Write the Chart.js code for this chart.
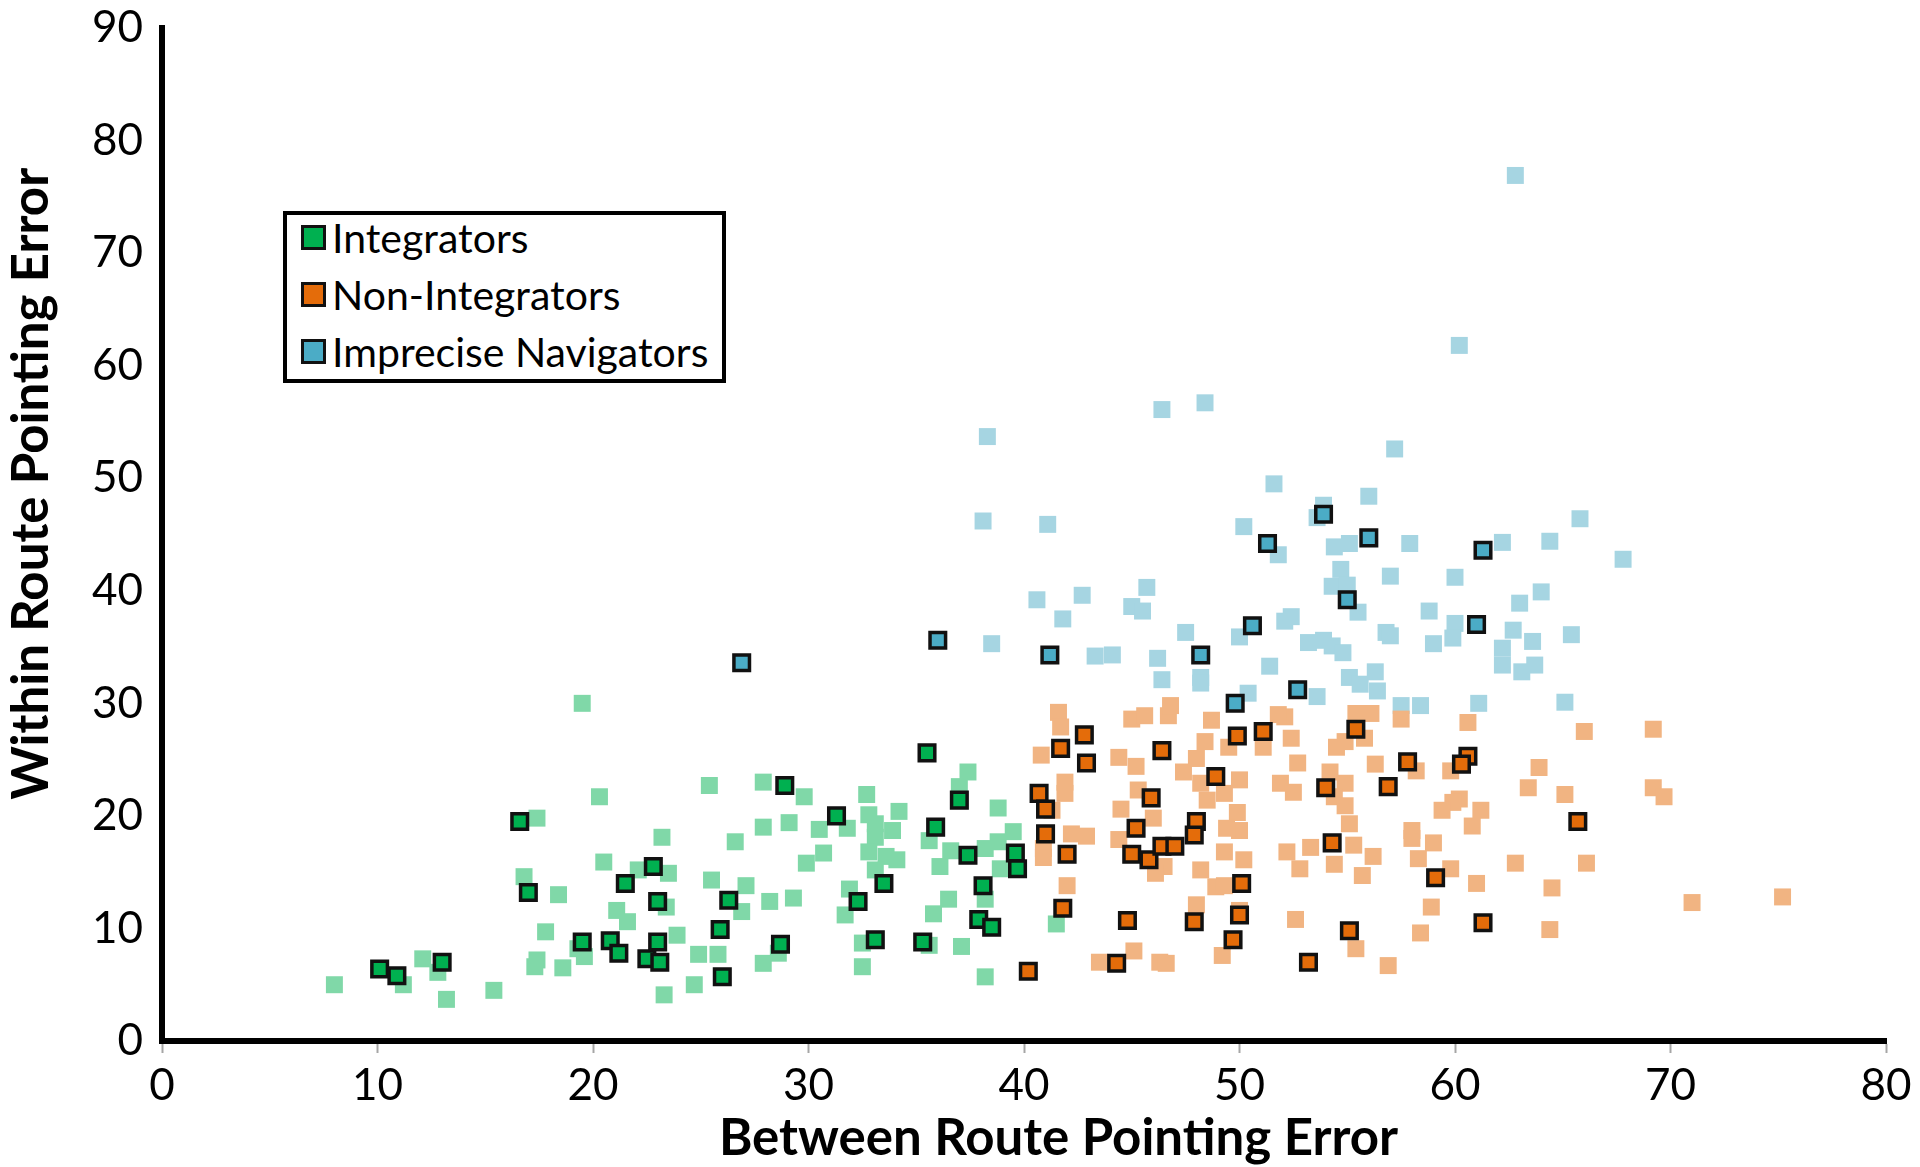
<!DOCTYPE html>
<html>
<head>
<meta charset="utf-8">
<title>Pointing error scatter</title>
<script src="https://cdn.jsdelivr.net/npm/chart.js@4.4.1/dist/chart.umd.min.js"></script>
<style>
    html, body { margin: 0; padding: 0; background: #fff; overflow: hidden; }
    #wrap { position: relative; width: 1920px; height: 1167px; }
    #legend {
        position: absolute; left: 283px; top: 211px; width: 435px; height: 164px;
        border: 4px solid #000; background: #fff;
        display: flex; flex-direction: column; gap: 13px;
        font-family: Lato, sans-serif; font-size: 41px; color: #000;
    }
    #legend .row { height: 44px; display: flex; align-items: center; white-space: nowrap; }
    #legend .box { width: 19px; height: 19px; border: 3px solid #111; margin: 0 6px 0 14px; flex: none; }
</style>
</head>
<body>
<div id="wrap">
    <canvas id="scatterChart"></canvas>
    <div id="legend"></div>
</div>
<script>
/* ==============================
   DATA  (x = between route, y = within route)
   ============================== */

const SERIES_NAMES = ['Integrators', 'Non-Integrators', 'Imprecise Navigators'];

const X_TICKS = [0, 10, 20, 30, 40, 50, 60, 70, 80];
const Y_TICKS = [0, 10, 20, 30, 40, 50, 60, 70, 80, 90];

// highlighted participants (dark, outlined)
const integratorsHi = [
    [10.1, 6.4], [10.9, 5.8], [13.0, 7.0], [16.6, 19.5], [17.0, 13.2], [19.5, 8.8], [20.8, 8.9],
    [21.2, 7.8], [21.5, 14.0], [22.5, 7.3], [22.8, 15.5], [23.0, 12.4], [23.0, 8.8], [23.1, 7.0],
    [25.9, 9.9], [26.0, 5.7], [26.3, 12.5], [28.7, 8.6], [28.9, 22.7], [31.3, 20.0], [32.3, 12.4],
    [33.1, 9.0], [33.5, 14.0], [35.3, 8.8], [35.5, 25.6], [35.9, 19.0], [37.0, 21.4], [37.4, 16.5],
    [37.9, 10.8], [38.1, 13.8], [38.5, 10.1], [39.6, 16.7], [39.7, 15.3]
];
const nonIntegratorsHi = [
    [42.8, 27.2], [41.7, 26.0], [42.9, 24.7], [46.4, 25.8], [48.9, 23.5], [40.7, 22.0], [41.0, 20.6],
    [41.0, 18.4], [42.0, 16.6], [45.9, 21.6], [45.2, 18.9], [45.0, 16.6], [45.8, 16.1], [46.4, 17.3],
    [47.0, 17.3], [48.0, 19.5], [47.9, 18.3], [41.8, 11.8], [44.8, 10.7], [47.9, 10.6], [40.2, 6.2],
    [44.3, 6.9], [55.4, 27.7], [49.9, 27.1], [51.1, 27.5], [57.8, 24.8], [60.6, 25.3], [60.3, 24.6],
    [54.0, 22.5], [56.9, 22.6], [65.7, 19.5], [54.3, 17.6], [59.1, 14.5], [50.1, 14.0], [50.0, 11.2],
    [49.7, 9.0], [55.1, 9.8], [61.3, 10.5], [53.2, 7.0]
];
const impreciseHi = [
    [26.9, 33.6], [36.0, 35.6], [41.2, 34.3], [48.2, 34.3], [50.6, 36.9], [51.3, 44.2], [52.7, 31.2],
    [49.8, 30.0], [53.9, 46.8], [56.0, 44.7], [61.3, 43.6], [55.0, 39.2], [61.0, 37.0]
];

// remaining trials (light)
const integratorsAll = [
    [19.5, 30.0], [25.4, 22.7], [20.3, 21.7], [17.4, 19.8], [23.2, 18.1], [26.6, 17.7], [20.5, 15.9],
    [22.1, 15.2], [23.5, 14.9], [16.8, 14.6], [25.5, 14.3], [27.1, 13.8], [18.4, 13.0], [23.4, 11.9],
    [21.1, 11.6], [26.9, 11.5], [21.6, 10.6], [17.8, 9.7], [23.9, 9.4], [19.3, 8.2], [19.6, 7.5],
    [17.4, 7.2], [17.3, 6.6], [18.6, 6.5], [24.9, 7.7], [25.8, 7.7], [12.1, 7.3], [12.8, 6.1],
    [11.2, 5.0], [8.0, 5.0], [15.4, 4.5], [13.2, 3.7], [24.7, 5.0], [23.3, 4.1],
    [27.9, 23.0], [29.8, 21.7], [32.7, 21.9], [34.2, 20.4], [27.9, 19.0], [29.1, 19.4], [30.5, 18.8],
    [31.8, 18.9], [32.8, 20.1], [33.1, 19.3], [33.9, 18.7], [33.1, 18.1], [30.7, 16.7], [29.9, 15.8],
    [32.8, 16.8], [33.6, 16.4], [34.1, 16.1], [33.1, 15.2], [31.9, 13.5], [31.7, 11.2], [29.3, 12.7],
    [28.2, 12.4], [37.4, 23.9], [37.0, 22.6], [38.8, 20.7], [35.6, 17.8], [36.6, 16.9], [36.1, 15.5],
    [38.2, 17.1], [38.8, 17.7], [39.5, 18.6], [38.9, 15.3], [36.5, 12.6], [35.8, 11.3], [38.2, 12.6],
    [41.5, 10.4], [32.5, 8.7], [32.5, 6.6], [35.6, 8.5], [37.1, 8.4], [38.2, 5.7], [27.9, 6.9], [28.6, 7.8]
];
const nonIntegratorsAll = [
    [41.6, 29.2], [41.7, 27.9], [45.0, 28.6], [45.6, 28.9], [46.7, 28.9], [46.8, 29.8], [48.7, 28.5],
    [40.8, 25.4], [44.4, 25.2], [45.2, 24.4], [41.9, 23.0], [41.9, 22.0], [45.3, 22.3], [44.5, 20.6],
    [46.0, 19.8], [47.4, 23.9], [48.4, 26.6], [48.0, 25.1], [48.2, 22.9], [48.5, 21.4], [41.3, 20.5],
    [40.9, 17.1], [40.9, 16.3], [42.2, 18.4], [42.9, 18.2], [44.4, 17.9], [46.5, 15.5], [46.1, 14.9],
    [48.2, 15.2], [48.9, 13.7], [42.0, 13.8], [48.0, 12.1], [45.1, 8.0], [43.5, 7.0], [46.3, 7.0],
    [46.6, 6.9], [49.2, 7.6],
    [52.1, 28.8], [51.8, 29.0], [55.4, 29.1], [56.1, 29.1], [57.5, 28.6], [60.6, 28.3], [66.0, 27.5],
    [69.2, 27.7], [52.4, 26.9], [51.1, 26.1], [49.5, 26.1], [54.9, 26.6], [54.5, 26.1], [55.8, 26.9],
    [52.7, 24.7], [56.3, 24.6], [58.2, 24.0], [59.8, 24.0], [63.9, 24.3], [54.2, 23.9], [50.0, 23.2],
    [51.9, 22.9], [52.5, 22.1], [54.9, 22.9], [63.4, 22.5], [65.1, 21.9], [69.2, 22.5], [69.7, 21.7],
    [60.2, 21.5], [59.9, 21.2], [59.4, 20.5], [61.2, 20.5], [60.8, 19.1], [54.4, 21.7], [54.9, 20.9],
    [55.1, 19.3], [49.3, 22.0], [49.9, 20.3], [50.0, 18.7], [49.4, 18.9], [58.0, 18.7], [58.0, 18.0],
    [59.0, 17.6], [58.3, 16.2], [59.8, 15.3], [52.2, 16.8], [53.3, 17.2], [52.8, 15.3], [55.3, 17.4],
    [56.2, 16.4], [54.4, 15.7], [55.7, 14.7], [49.3, 16.8], [50.2, 16.1], [49.3, 13.8], [62.8, 15.8],
    [66.1, 15.8], [61.0, 14.0], [64.5, 13.6], [58.9, 11.9], [52.6, 10.8], [50.0, 11.6], [58.4, 9.6],
    [64.4, 9.9], [55.4, 8.2], [56.9, 6.7], [71.0, 12.3], [75.2, 12.8]
];
const impreciseAll = [
    [62.8, 76.9], [60.2, 61.8], [46.4, 56.1], [48.4, 56.7], [38.3, 53.7], [51.6, 49.5], [38.1, 46.2],
    [41.1, 45.9], [50.2, 45.7], [51.8, 43.2], [45.7, 40.3], [40.6, 39.2], [42.7, 39.6], [45.0, 38.6],
    [45.5, 38.2], [41.8, 37.5], [38.5, 35.3], [47.5, 36.3], [50.0, 35.9], [52.1, 37.3], [52.4, 37.7],
    [53.2, 35.4], [43.3, 34.2], [44.1, 34.3], [46.2, 34.0], [46.4, 32.1], [48.2, 32.3], [48.2, 31.8],
    [51.4, 33.3], [50.4, 30.9], [53.6, 30.6],
    [57.2, 52.6], [56.0, 48.4], [53.9, 47.6], [53.6, 46.5], [65.8, 46.4], [54.4, 43.9], [55.1, 44.2],
    [57.9, 44.2], [62.2, 44.3], [64.4, 44.4], [67.8, 42.8], [54.7, 41.9], [57.0, 41.3], [60.0, 41.2],
    [54.3, 40.4], [55.0, 40.5], [55.5, 38.1], [64.0, 39.9], [63.0, 38.9], [58.8, 38.2], [56.8, 36.3],
    [57.0, 36.0], [60.0, 37.1], [59.9, 35.8], [62.7, 36.5], [63.6, 35.5], [65.4, 36.1], [53.9, 35.6],
    [54.3, 35.1], [54.8, 34.5], [59.0, 35.3], [62.2, 34.9], [62.2, 33.4], [63.1, 32.8], [63.7, 33.4],
    [55.1, 32.3], [56.3, 32.8], [55.6, 31.7], [56.4, 31.1], [57.5, 29.8], [58.4, 29.8], [61.1, 30.0],
    [65.1, 30.1]
];

/* ==============================
   STYLE
   ============================== */

const DARK = ['#00b050', '#e46c0a', '#4bacc6'];
const LIGHT = ['#80d8a8', '#f1b482', '#a6d5e2'];
const FONT = 'Lato';

const toPoints = arr => arr.map(p => ({ x: p[0], y: p[1] }));

function hiDataset(label, arr, color) {
    return {
        label,
        data: toPoints(arr),
        pointStyle: 'rect',
        pointRadius: 11,
        pointBackgroundColor: color,
        pointBorderColor: '#111',
        pointBorderWidth: 3.5,
    };
}

function allDataset(label, arr, color) {
    return {
        label,
        data: toPoints(arr),
        pointStyle: 'rect',
        pointRadius: 12,
        pointBackgroundColor: color,
        pointBorderWidth: 0,
    };
}

// axis titles sit off-centre in the original, so draw them ourselves
const axisTitles = {
    id: 'axisTitles',
    afterDraw(chart) {
        const { ctx, chartArea: a } = chart;
        ctx.save();
        ctx.fillStyle = '#000';
        ctx.font = `bold 51px ${FONT}`;
        ctx.textAlign = 'center';
        ctx.textBaseline = 'alphabetic';
        ctx.fillText('Between Route Pointing Error', a.left + a.width * 0.52, a.bottom + 114);
        ctx.translate(48, a.top + a.height * 0.45);
        ctx.rotate(-Math.PI / 2);
        ctx.fillText('Within Route Pointing Error', 0, 0);
        ctx.restore();
    }
};

function renderLegend() {
    const el = document.getElementById('legend');
    el.innerHTML = SERIES_NAMES.map((name, i) =>
        `<div class="row"><span class="box" style="background:${DARK[i]}"></span>${name}</div>`
    ).join('');
}

function renderChart() {
    const canvas = document.getElementById('scatterChart');
    new Chart(canvas, {
        type: 'scatter',
        data: {
            datasets: [
                hiDataset(SERIES_NAMES[0], integratorsHi, DARK[0]),
                hiDataset(SERIES_NAMES[1], nonIntegratorsHi, DARK[1]),
                hiDataset(SERIES_NAMES[2], impreciseHi, DARK[2]),
                allDataset(SERIES_NAMES[0], integratorsAll, LIGHT[0]),
                allDataset(SERIES_NAMES[1], nonIntegratorsAll, LIGHT[1]),
                allDataset(SERIES_NAMES[2], impreciseAll, LIGHT[2]),
            ]
        },
        options: {
            responsive: true,
            maintainAspectRatio: false,
            animation: false,
            layout: { padding: { top: 28, right: 34, left: 0, bottom: 0 } },
            plugins: { legend: { display: false }, tooltip: { enabled: false } },
            scales: {
                x: {
                    type: 'linear',
                    min: X_TICKS[0],
                    max: X_TICKS[X_TICKS.length - 1],
                    afterBuildTicks: s => { s.ticks = X_TICKS.map(v => ({ value: v })); },
                    afterFit: s => { s.height = 126; },
                    border: { display: true, color: '#000', width: 6 },
                    grid: { display: true, drawOnChartArea: false, drawTicks: true, tickLength: 12, tickWidth: 2, tickColor: '#a6a6a6' },
                    ticks: { color: '#000', padding: 6, maxRotation: 0, font: { family: FONT, size: 44 } }
                },
                y: {
                    type: 'linear',
                    min: Y_TICKS[0],
                    max: Y_TICKS[Y_TICKS.length - 1],
                    afterBuildTicks: s => { s.ticks = Y_TICKS.map(v => ({ value: v })); },
                    afterFit: s => { s.width = 162; },
                    border: { display: true, color: '#000', width: 6 },
                    // invisible tick marks give the label gap without padding the top
                    grid: { display: true, drawOnChartArea: false, drawTicks: true, tickLength: 19, tickColor: 'rgba(0,0,0,0)' },
                    ticks: { color: '#000', padding: 0, font: { family: FONT, size: 44 } }
                }
            }
        },
        plugins: [axisTitles]
    });
}

renderLegend();
renderChart();
</script>
</body>
</html>
